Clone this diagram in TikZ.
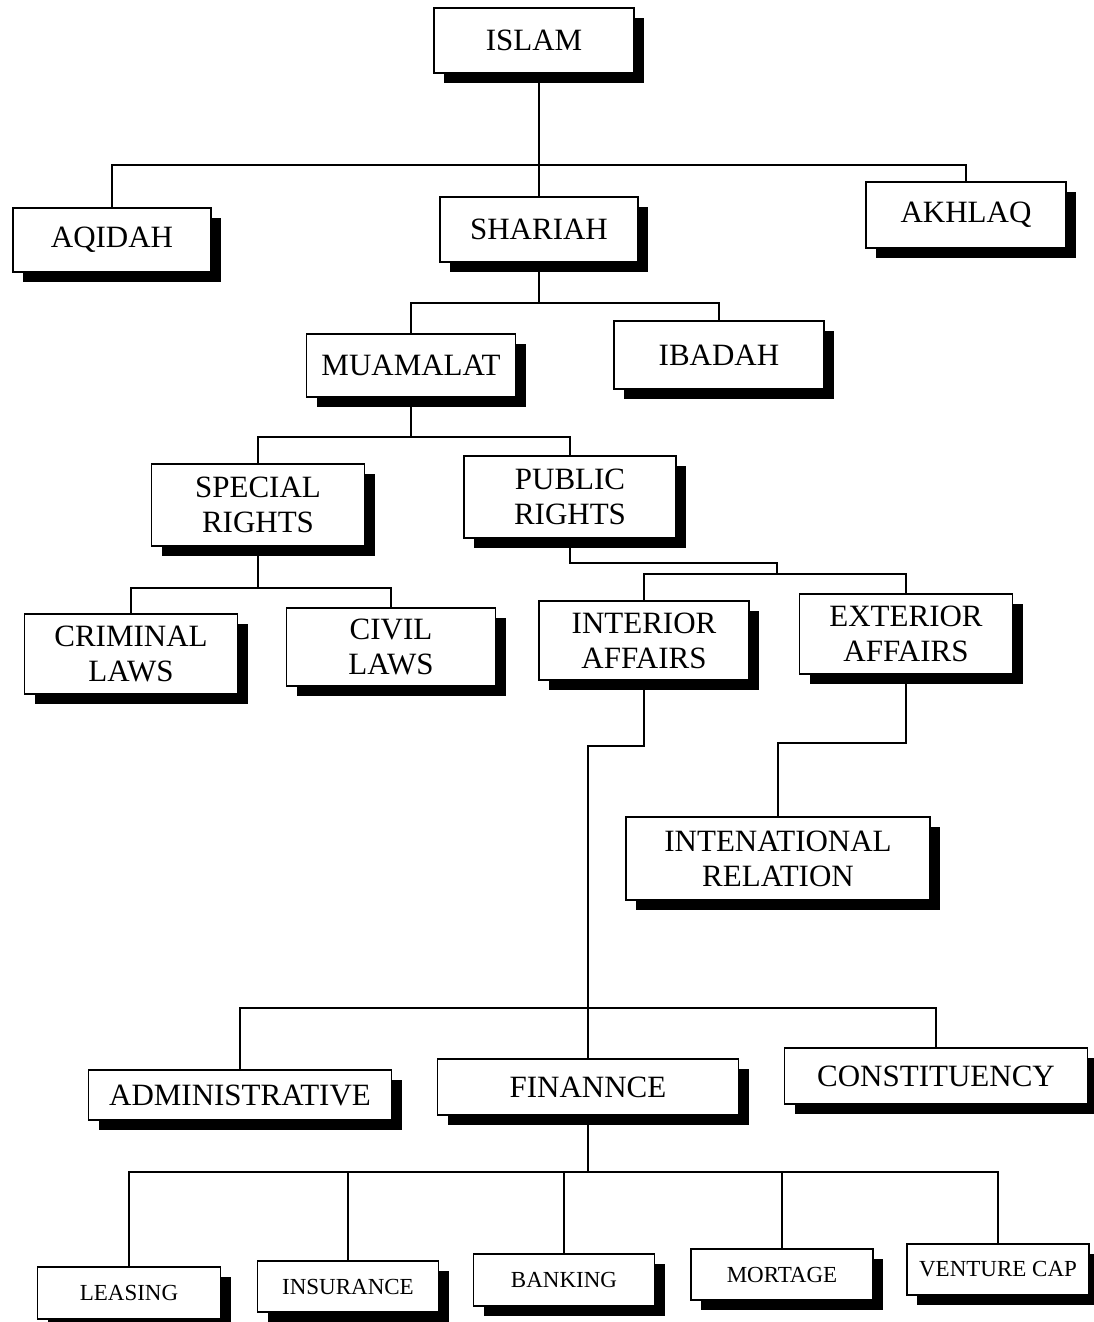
\documentclass[tikz,border=0pt]{standalone}
\usepackage{fontspec}
\setmainfont{Liberation Serif}
\usetikzlibrary{shadows}
\begin{document}
\begin{tikzpicture}[x=1pt,y=-1pt,
  box/.style={draw=black,line width=1.8pt,fill=white,inner sep=0pt,align=center,
    font=\fontsize{31}{35}\selectfont,
    drop shadow={shadow xshift=10pt,shadow yshift=-10pt,fill=black,opacity=1}},
  small/.style={box,font=\fontsize{23}{26}\selectfont},
  link/.style={line width=1.6pt,line cap=rect}]
\useasboundingbox (0,0) rectangle (1093,1322);
\fill[white] (0,0) rectangle (1093,1322);

% boxes
\node[box,minimum width=200pt,minimum height=65pt] (islam) at (534,40.5) {ISLAM};
\node[box,minimum width=198pt,minimum height=64pt] (aqidah) at (112,240) {AQIDAH};
\node[box,minimum width=198pt,minimum height=65pt] (shariah) at (539,229.5) {SHARIAH};
\node[box,minimum width=200pt,minimum height=66pt] (akhlaq) at (966,215) {AKHLAQ};
\node[box,minimum width=209pt,minimum height=63pt] (muamalat) at (411,365.5) {MUAMALAT};
\node[box,minimum width=210pt,minimum height=68pt] (ibadah) at (719,355) {IBADAH};
\node[box,minimum width=213pt,minimum height=82pt] (special) at (258,505) {SPECIAL\\RIGHTS};
\node[box,minimum width=212pt,minimum height=82pt] (public) at (570,497) {PUBLIC\\RIGHTS};
\node[box,minimum width=213pt,minimum height=80pt] (criminal) at (131,654) {CRIMINAL\\LAWS};
\node[box,minimum width=209pt,minimum height=78pt] (civil) at (391,647) {CIVIL\\LAWS};
\node[box,minimum width=210pt,minimum height=79pt] (interior) at (644,640.5) {INTERIOR\\AFFAIRS};
\node[box,minimum width=213pt,minimum height=80pt] (exterior) at (906,634) {EXTERIOR\\AFFAIRS};
\node[box,minimum width=304pt,minimum height=83pt] (intl) at (778,858.5) {INTENATIONAL\\RELATION};
\node[box,minimum width=303pt,minimum height=50pt] (admin) at (240,1095) {ADMINISTRATIVE};
\node[box,minimum width=301pt,minimum height=56pt] (finance) at (588,1087) {FINANNCE};
\node[box,minimum width=303pt,minimum height=56pt] (constituency) at (936,1076) {CONSTITUENCY};
\node[small,minimum width=183pt,minimum height=52pt] (leasing) at (129,1293) {LEASING};
\node[small,minimum width=181pt,minimum height=51pt] (insurance) at (348,1286.5) {INSURANCE};
\node[small,minimum width=181pt,minimum height=52pt] (banking) at (564,1280) {BANKING};
\node[small,minimum width=182pt,minimum height=51pt] (mortage) at (782,1274.5) {MORTAGE};
\node[small,minimum width=182pt,minimum height=51pt] (venture) at (998,1269.5) {VENTURE CAP};

% junction levels
\coordinate (j1) at (0,165);
\coordinate (j2) at (0,303);
\coordinate (j3) at (0,437);
\coordinate (j4) at (0,588);
\coordinate (pk) at (777,563);
\coordinate (j5) at (0,574);
\coordinate (j6) at (0,1008);
\coordinate (j7) at (0,1172);

% connectors
\begin{scope}[on background layer/.style={}]
\draw[link] (islam.south -| shariah.north) -- (shariah.north);
\draw[link] (aqidah.north) |- (j1 -| akhlaq.north) -- (akhlaq.north);

\draw[link] (shariah.south) -- (shariah.south |- j2);
\draw[link] (muamalat.north) |- (j2 -| ibadah.north) -- (ibadah.north);

\draw[link] (muamalat.south) -- (muamalat.south |- j3);
\draw[link] (special.north) |- (j3 -| public.north) -- (public.north);

\draw[link] (special.south) -- (special.south |- j4);
\draw[link] (criminal.north) |- (j4 -| civil.north) -- (civil.north);

\draw[link] (public.south) |- (pk) -- (pk |- j5);
\draw[link] (interior.north) |- (j5 -| exterior.north) -- (exterior.north);

\draw[link] (interior.south) -- ++(0,65) -| (finance.north);
\draw[link] (exterior.south) -- ++(0,68) -| (intl.north);

\draw[link] (admin.north) |- (j6 -| constituency.north) -- (constituency.north);

\draw[link] (finance.south) -- (finance.south |- j7);
\draw[link] (leasing.north) |- (j7 -| venture.north) -- (venture.north);
\draw[link] (insurance.north) -- (insurance.north |- j7);
\draw[link] (banking.north) -- (banking.north |- j7);
\draw[link] (mortage.north) -- (mortage.north |- j7);
\end{scope}
\end{tikzpicture}
\end{document}
